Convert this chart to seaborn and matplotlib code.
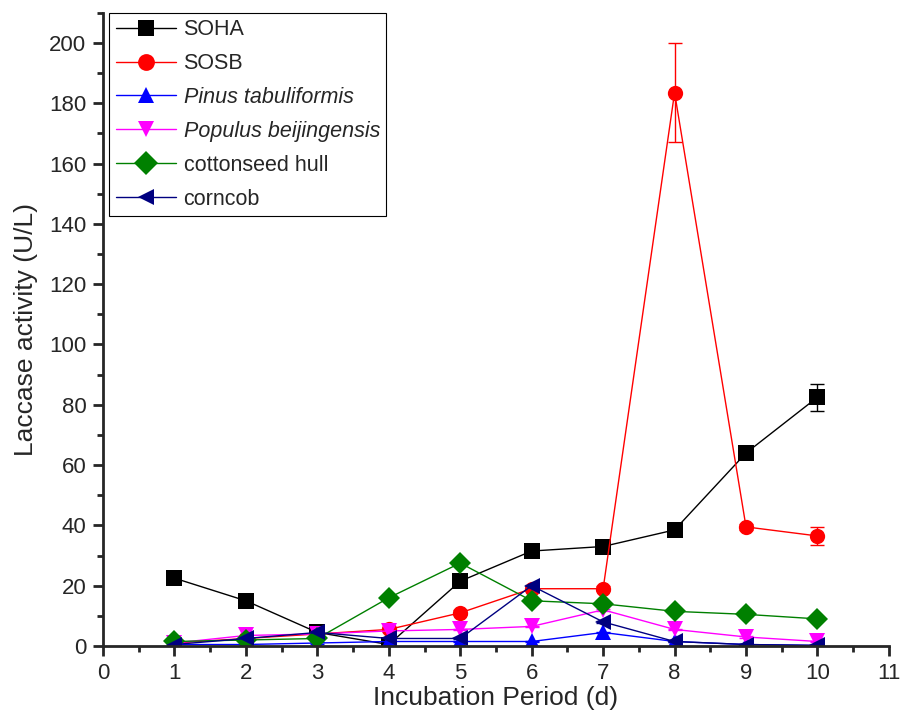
"""
Laccase activity over the incubation period for six substrates.
"""
import pandas as pd
import matplotlib
matplotlib.use("Agg")
import matplotlib.pyplot as plt
from matplotlib.ticker import MultipleLocator
import seaborn as sns

# Incubation days
days = [1, 2, 3, 4, 5, 6, 7, 8, 9, 10]

# Laccase activity (U/L)
soha = [22.5, 15.0, 4.5, 0.5, 21.5, 31.5, 33.0, 38.5, 64.0, 82.5]
sosb = [1.0, 2.5, 4.0, 5.5, 11.0, 19.0, 19.0, 183.5, 39.5, 36.5]
pinus = [0.5, 0.5, 1.0, 1.5, 1.5, 1.5, 4.5, 1.5, 0.5, 0.2]
populus = [1.0, 3.5, 4.0, 5.0, 5.5, 6.5, 12.0, 5.5, 3.0, 1.5]
cottonseed = [1.5, 2.0, 2.5, 16.0, 27.5, 15.0, 14.0, 11.5, 10.5, 9.0]
corncob = [0.5, 2.5, 4.5, 2.5, 2.5, 20.0, 8.0, 1.5, 0.5, 0.2]

# Standard deviations (only the visible ones are non-trivial)
soha_err = [0.8, 0.8, 0.5, 0.3, 1.0, 1.0, 1.0, 1.0, 2.0, 4.5]
sosb_err = [0.3, 0.3, 0.5, 0.5, 0.8, 0.8, 0.8, 16.5, 1.0, 3.0]
pinus_err = [0.2] * 10
populus_err = [0.3] * 10
cottonseed_err = [0.5] * 10
corncob_err = [0.3] * 10

series_names = ["SOHA", "SOSB", "Pinus tabuliformis", "Populus beijingensis",
                "cottonseed hull", "corncob"]
series_values = [soha, sosb, pinus, populus, cottonseed, corncob]
series_errors = [soha_err, sosb_err, pinus_err, populus_err, cottonseed_err, corncob_err]
colors = ["#000000", "#ff0000", "#0000ff", "#ff00ff", "#008000", "#000080"]
markers = ["s", "o", "^", "v", "D", "<"]

# Long format table for seaborn
rows = []
for name, vals, errs in zip(series_names, series_values, series_errors):
    for d, v, e in zip(days, vals, errs):
        rows.append({"day": d, "activity": v, "err": e, "substrate": name})
df = pd.DataFrame(rows)

sns.set_style("ticks")
plt.rcParams["font.family"] = ["Liberation Sans", "DejaVu Sans"]

fig = plt.figure(figsize=(9.01, 7.19), dpi=100)
ax = fig.add_axes([0.1143, 0.1015, 0.8723, 0.8808])

sns.lineplot(data=df, x="day", y="activity", hue="substrate", style="substrate",
             hue_order=series_names, style_order=series_names,
             palette=colors, markers=markers, dashes=False,
             markersize=11, markeredgewidth=0, linewidth=1,
             errorbar=None, ax=ax)

# Error bars
for name, color in zip(series_names, colors):
    sub = df[df["substrate"] == name]
    ax.errorbar(sub["day"], sub["activity"], yerr=sub["err"], fmt="none",
                ecolor=color, elinewidth=1, capsize=5, capthick=1, zorder=1)

ax.set_xlim(0, 11)
ax.set_ylim(0, 210)
ax.xaxis.set_major_locator(MultipleLocator(1))
ax.xaxis.set_minor_locator(MultipleLocator(0.5))
ax.yaxis.set_major_locator(MultipleLocator(20))
ax.yaxis.set_minor_locator(MultipleLocator(10))
ax.set_yticks(range(0, 201, 20))

sns.despine(ax=ax)
for side in ["left", "bottom"]:
    ax.spines[side].set_linewidth(2)
ax.tick_params(which="major", direction="out", length=7, width=2,
               labelsize=16, pad=5)
ax.tick_params(which="minor", direction="out", length=4.5, width=2)

ax.set_xlabel("Incubation Period (d)", fontsize=19, labelpad=2)
ax.set_ylabel("Laccase activity (U/L)", fontsize=19, labelpad=8)

leg = ax.legend(loc="upper left", bbox_to_anchor=(0.008, 1.0), borderaxespad=0,
                fontsize=15.5, handlelength=2.8, labelspacing=0.6,
                handletextpad=0.35, borderpad=0.3, fancybox=False,
                framealpha=1, edgecolor="black", markerscale=1.1)
leg.get_frame().set_linewidth(0.8)
for text in leg.get_texts():
    if text.get_text() in ("Pinus tabuliformis", "Populus beijingensis"):
        text.set_fontstyle("italic")

fig.savefig("out.png", dpi=100)
